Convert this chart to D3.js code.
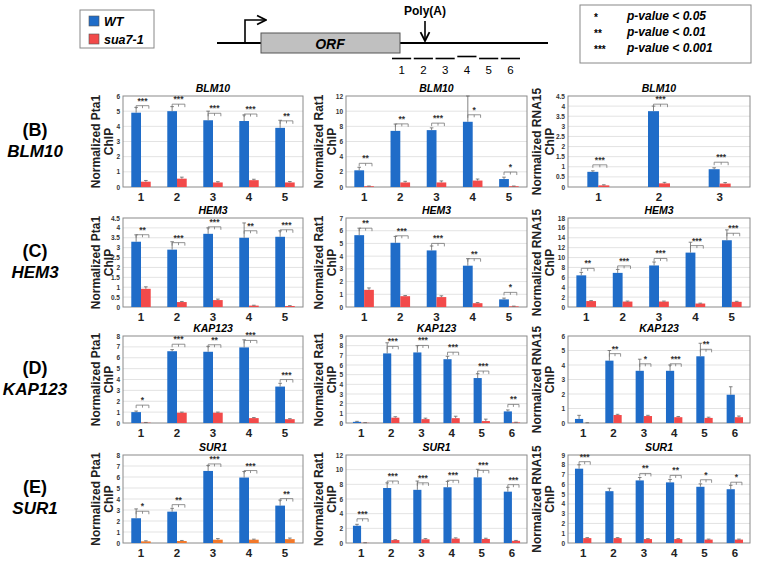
<!DOCTYPE html>
<html><head><meta charset="utf-8">
<script src="https://cdn.jsdelivr.net/npm/d3@7"></script>
<style>body{margin:0;background:#fff} svg{display:block;font-family:"Liberation Sans",Arial,sans-serif}</style>
</head><body><svg id="c" width="768" height="561"></svg>
<script>
// ---------- data ----------
const cat3 = ["1","2","3"];
const cat5 = ["1","2","3","4","5"];
const cat6 = ["1","2","3","4","5","6"];
const seriesNames = ["WT","sua7-1"];
const factors = ["Pta1","Rat1","RNA15"];
const genes = ["BLM10","HEM3","KAP123","SUR1"];
const rowLetters = ["(B)","(C)","(D)","(E)"];
const pKeyStars = ["*","**","***"];
const pKeyText = ["p-value < 0.05","p-value < 0.01","p-value < 0.001"];
const regionLabels = ["1","2","3","4","5","6"];

// (B) BLM10
const wtB1=[4.9,5.0,4.4,4.35,3.9], wtErrB1=[0.35,0.3,0.6,0.4,0.5], suaB1=[0.35,0.55,0.3,0.45,0.3], suaErrB1=[0.08,0.1,0.05,0.06,0.06], sigB1=["***","***","***","***","**"], ticksB1=[0,1,2,3,4,5,6];
const wtB2=[2.2,7.4,7.5,8.6,1.05], wtErrB2=[0.4,0.9,0.3,3.4,0.25], suaB2=[0.1,0.6,0.6,0.85,0.1], suaErrB2=[0.03,0.15,0.2,0.2,0.03], sigB2=["**","**","***","*","*"], ticksB2=[0,2,4,6,8,10,12];
const wtB3=[0.75,3.75,0.88], wtErrB3=[0.05,0.25,0.07], suaB3=[0.08,0.18,0.17], suaErrB3=[0.03,0.05,0.05], sigB3=["***","***","***"], ticksB3=[0,0.5,1,1.5,2,2.5,3,3.5,4,4.5];
// (C) HEM3
const wtC1=[3.3,2.9,3.7,3.5,3.55], wtErrC1=[0.35,0.4,0.3,0.75,0.3], suaC1=[0.92,0.25,0.35,0.07,0.05], suaErrC1=[0.1,0.03,0.05,0.02,0.02], sigC1=["**","***","***","**","***"], ticksC1=[0,0.5,1,1.5,2,2.5,3,3.5,4,4.5];
const wtC2=[5.65,5.05,4.45,3.25,0.6], wtErrC2=[0.55,0.5,0.35,0.55,0.1], suaC2=[1.35,0.85,0.78,0.3,0.05], suaErrC2=[0.15,0.05,0.1,0.05,0.02], sigC2=["**","***","***","**","*"], ticksC2=[0,1,2,3,4,5,6,7];
const wtC3=[6.4,6.9,8.4,11.0,13.5], wtErrC3=[0.6,0.7,0.7,2.1,2.1], suaC3=[1.2,1.1,1.1,0.7,1.05], suaErrC3=[0.1,0.1,0.1,0.08,0.1], sigC3=["**","***","***","***","***"], ticksC3=[0,2,4,6,8,10,12,14,16,18];
// (D) KAP123
const wtD1=[1.0,6.6,6.55,6.95,3.35], wtErrD1=[0.1,0.15,0.5,0.7,0.3], suaD1=[0.03,0.95,0.95,0.45,0.35], suaErrD1=[0.02,0.05,0.05,0.05,0.05], sigD1=["*","***","**","***","***"], ticksD1=[0,1,2,3,4,5,6,7,8];
const wtD2=[0.12,7.2,7.3,6.6,4.65,1.2], wtErrD2=[0.05,1.1,0.7,0.3,0.45,0.15], suaD2=[0.02,0.55,0.4,0.5,0.2,0.05], suaErrD2=[0.02,0.1,0.1,0.2,0.2,0.03], sigD2=["","***","***","***","***","**"], ticksD2=[0,1,2,3,4,5,6,7,8,9];
const wtD3=[0.28,4.3,3.6,3.6,4.6,1.95], wtErrD3=[0.25,0.7,0.8,0.4,0.9,0.55], suaD3=[0.0,0.55,0.48,0.4,0.35,0.4], suaErrD3=[0.02,0.05,0.05,0.05,0.05,0.08], sigD3=["","**","*","***","**",""], ticksD3=[0,1,2,3,4,5,6];
// (E) SUR1
const wtE1=[2.25,2.85,6.55,5.95,3.4], wtErrE1=[0.85,0.3,0.5,0.55,0.5], suaE1=[0.15,0.18,0.3,0.3,0.35], suaErrE1=[0.05,0.05,0.1,0.05,0.1], sigE1=["*","**","***","***","**"], ticksE1=[0,1,2,3,4,5,6,7,8];
const wtE2=[2.35,7.5,7.25,7.6,8.95,7.0], wtErrE2=[0.2,0.7,1.2,0.8,1.1,0.6], suaE2=[0.02,0.4,0.5,0.6,0.55,0.3], suaErrE2=[0.02,0.05,0.1,0.1,0.1,0.05], sigE2=["***","***","***","***","***","***"], ticksE2=[0,2,4,6,8,10,12];
const wtE3=[7.6,5.3,6.4,6.2,5.75,5.5], wtErrE3=[0.4,0.3,0.3,0.3,0.3,0.4], suaE3=[0.5,0.5,0.4,0.4,0.35,0.35], suaErrE3=[0.05,0.05,0.05,0.05,0.05,0.05], sigE3=["***","","**","**","*","*"], ticksE3=[0,1,2,3,4,5,6,7,8,9];

const panels = [
 [{cats:cat5,wt:wtB1,we:wtErrB1,su:suaB1,se:suaErrB1,sig:sigB1,ticks:ticksB1},
  {cats:cat5,wt:wtB2,we:wtErrB2,su:suaB2,se:suaErrB2,sig:sigB2,ticks:ticksB2},
  {cats:cat3,wt:wtB3,we:wtErrB3,su:suaB3,se:suaErrB3,sig:sigB3,ticks:ticksB3}],
 [{cats:cat5,wt:wtC1,we:wtErrC1,su:suaC1,se:suaErrC1,sig:sigC1,ticks:ticksC1},
  {cats:cat5,wt:wtC2,we:wtErrC2,su:suaC2,se:suaErrC2,sig:sigC2,ticks:ticksC2},
  {cats:cat5,wt:wtC3,we:wtErrC3,su:suaC3,se:suaErrC3,sig:sigC3,ticks:ticksC3}],
 [{cats:cat5,wt:wtD1,we:wtErrD1,su:suaD1,se:suaErrD1,sig:sigD1,ticks:ticksD1},
  {cats:cat6,wt:wtD2,we:wtErrD2,su:suaD2,se:suaErrD2,sig:sigD2,ticks:ticksD2},
  {cats:cat6,wt:wtD3,we:wtErrD3,su:suaD3,se:suaErrD3,sig:sigD3,ticks:ticksD3}],
 [{cats:cat5,wt:wtE1,we:wtErrE1,su:suaE1,se:suaErrE1,sig:sigE1,ticks:ticksE1},
  {cats:cat6,wt:wtE2,we:wtErrE2,su:suaE2,se:suaErrE2,sig:sigE2,ticks:ticksE2},
  {cats:cat6,wt:wtE3,we:wtErrE3,su:suaE3,se:suaErrE3,sig:sigE3,ticks:ticksE3}]
];

// ---------- layout / style ----------
const BLUE="#1f6cc8", RED="#f24a4a", ORANGE="#f2782a";
const colX=[[123,303],[346,527],[568,750]];
const rowY=[[96,187],[218,307],[336,423],[455,543]];
const ylabX=[[96,109],[319,332],[537,550]];
const svg=d3.select("#c");

panels.forEach((row,r)=>{
  const [y0,y1]=rowY[r];
  const mid=(y0+y1)/2;
  svg.append("text").attr("x",35).attr("y",mid-6).attr("text-anchor","middle")
    .attr("font-size",18).attr("font-weight","bold").text(rowLetters[r]);
  svg.append("text").attr("x",35).attr("y",mid+15).attr("text-anchor","middle")
    .attr("font-size",17).attr("font-weight","bold").attr("font-style","italic").text(genes[r]);
  row.forEach((p,c)=>{
    const [x0,x1]=colX[c];
    const x=d3.scaleBand().domain(p.cats).range([x0,x1]);
    const ymax=p.ticks[p.ticks.length-1];
    const y=d3.scaleLinear().domain([0,ymax]).range([y1,y0]);
    const g=svg.append("g");
    g.selectAll("line.grid").data(p.ticks.filter(t=>t>0&&t<ymax)).join("line")
      .attr("x1",x0).attr("x2",x1).attr("y1",d=>y(d)).attr("y2",d=>y(d))
      .attr("stroke","#dcdcdc").attr("stroke-width",0.8);
    g.append("rect").attr("x",x0).attr("y",y0).attr("width",x1-x0).attr("height",y1-y0)
      .attr("fill","none").attr("stroke","#8a8a8a").attr("stroke-width",1);
    const ax=g.append("g").attr("transform",`translate(${x0},0)`)
      .call(d3.axisLeft(y).tickValues(p.ticks).tickSize(0).tickPadding(3).tickFormat(d3.format("")));
    ax.select(".domain").remove();
    ax.selectAll("text").attr("font-size",6.5).attr("font-weight","bold").attr("fill","#333")
      .attr("font-family","'Liberation Sans',Arial,sans-serif");
    const bx=g.append("g").attr("transform",`translate(0,${y1})`)
      .call(d3.axisBottom(x).tickSize(0).tickPadding(6));
    bx.select(".domain").remove();
    bx.selectAll("text").attr("font-size",11.5).attr("font-weight","bold").attr("fill","#222")
      .attr("font-family","'Liberation Sans',Arial,sans-serif");
    g.append("text").attr("x",(x0+x1)/2).attr("y",y0-4).attr("text-anchor","middle")
      .attr("font-size",10.5).attr("font-weight","bold").attr("font-style","italic").text(genes[r]);
    const lx=ylabX[c];
    [ "Normalized "+factors[c], "ChIP"].forEach((t,i)=>{
      g.append("text").attr("transform",`translate(${lx[i]+4},${mid}) rotate(-90)`)
        .attr("text-anchor","middle").attr("font-size",12).attr("font-weight","bold").attr("fill","#222").text(t);
    });
    const bw=Math.min(x.bandwidth()*0.27,11);
    const sc = (r===3&&c===0)?ORANGE:RED;
    const cx=(d,i)=>x(p.cats[i])+x.bandwidth()/2;
    g.selectAll("rect.wt").data(p.wt).join("rect")
      .attr("x",(d,i)=>cx(d,i)-bw).attr("width",bw).attr("y",d=>y(d)).attr("height",d=>y1-y(d)).attr("fill",BLUE);
    g.selectAll("rect.su").data(p.su).join("rect")
      .attr("x",(d,i)=>cx(d,i)).attr("width",bw).attr("y",d=>y(d)).attr("height",d=>y1-y(d)).attr("fill",sc);
    const err=(vals,errs,off)=>{
      vals.forEach((v,i)=>{
        const xc=cx(v,i)+off;
        const top=y(v+errs[i]);
        g.append("line").attr("x1",xc).attr("x2",xc).attr("y1",y(v)).attr("y2",top).attr("stroke","#666").attr("stroke-width",0.8);
        g.append("line").attr("x1",xc-1.8).attr("x2",xc+1.8).attr("y1",top).attr("y2",top).attr("stroke","#666").attr("stroke-width",0.8);
      });
    };
    err(p.wt,p.we,-bw/2);
    err(p.su,p.se,bw/2);
    p.sig.forEach((s,i)=>{
      if(!s) return;
      const c0=cx(0,i);
      const xa=c0-bw/2, xb=c0+bw/2+3;
      const by=y(p.wt[i])-7;
      const xm=(xa+xb)/2;
      g.append("path").attr("d",`M${xa},${by+3}L${xa},${by}L${xb},${by}L${xb},${by+3}M${xm},${by}L${xm},${by+2.5}`)
        .attr("fill","none").attr("stroke","#777").attr("stroke-width",0.8);
      g.append("text").attr("x",xm).attr("y",by-2).attr("text-anchor","middle")
        .attr("font-size",8.5).attr("font-weight","bold").attr("fill","#333").text(s);
    });
  });
});

// ---------- header ----------
svg.append("rect").attr("x",80).attr("y",10).attr("width",74).attr("height",38).attr("fill","#fff").attr("stroke","#888");
[BLUE,RED].forEach((col,i)=>{
  svg.append("rect").attr("x",89).attr("y",16+i*18).attr("width",10).attr("height",10).attr("fill",col).attr("stroke","#555").attr("stroke-width",0.6);
  svg.append("text").attr("x",104).attr("y",25.5+i*18).attr("font-size",12.5).attr("font-weight","bold").attr("font-style","italic").text(seriesNames[i]);
});
const defs=svg.append("defs");
defs.append("marker").attr("id","ah").attr("viewBox","0 0 10 10").attr("refX",9).attr("refY",5)
  .attr("markerWidth",7).attr("markerHeight",7).attr("orient","auto-start-reverse")
  .append("path").attr("d","M1,1L9,5L1,9").attr("fill","none").attr("stroke","#000").attr("stroke-width",1.6);
svg.append("line").attr("x1",217).attr("x2",548).attr("y1",43).attr("y2",43).attr("stroke","#000").attr("stroke-width",2);
svg.append("path").attr("d","M245,43L245,20L266,20").attr("fill","none").attr("stroke","#000").attr("stroke-width",1.6).attr("marker-end","url(#ah)");
svg.append("rect").attr("x",261).attr("y",33).attr("width",139).attr("height",20).attr("fill","#c0c0c0").attr("stroke","#555");
svg.append("text").attr("x",330).attr("y",48.5).attr("text-anchor","middle").attr("font-size",14).attr("font-weight","bold").attr("font-style","italic").text("ORF");
svg.append("text").attr("x",425).attr("y",15).attr("text-anchor","middle").attr("font-size",12).attr("font-weight","bold").text("Poly(A)");
svg.append("line").attr("x1",425).attr("x2",425).attr("y1",21).attr("y2",41).attr("stroke","#000").attr("stroke-width",1.6).attr("marker-end","url(#ah)");
const segX=d3.scaleBand().domain(regionLabels).range([392,520]).paddingInner(0.12);
regionLabels.forEach((l,i)=>{
  const sy = i===3?56.5:58.5;
  svg.append("line").attr("x1",segX(l)).attr("x2",segX(l)+segX.bandwidth()).attr("y1",sy).attr("y2",sy).attr("stroke","#000").attr("stroke-width",1.6);
  svg.append("text").attr("x",segX(l)+segX.bandwidth()/2).attr("y",74).attr("text-anchor","middle").attr("font-size",11.5).text(l);
});
svg.append("rect").attr("x",580).attr("y",5).attr("width",171).attr("height",58).attr("fill","#fff").attr("stroke","#888");
pKeyStars.forEach((s,i)=>{
  svg.append("text").attr("x",594).attr("y",21+i*16).attr("font-size",10).attr("font-weight","bold").text(s);
  svg.append("text").attr("x",627).attr("y",20+i*16).attr("font-size",12).attr("font-weight","bold").attr("font-style","italic").text(pKeyText[i]);
});
</script></body></html>
